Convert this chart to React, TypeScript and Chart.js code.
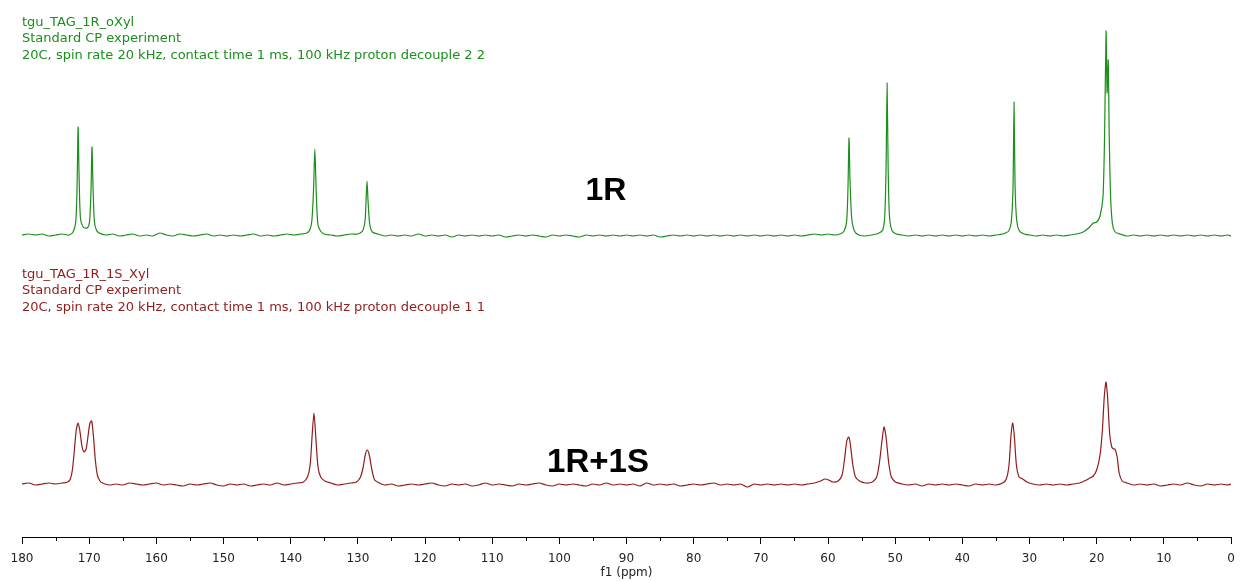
import React, { useEffect, useRef } from "react";
import { Chart, registerables } from "chart.js";

Chart.register(...registerables);

// Tick values (ppm)
const MAJOR_TICKS = [180, 170, 160, 150, 140, 130, 120, 110, 100, 90, 80, 70, 60, 50, 40, 30, 20, 10, 0];
const MINOR_TICKS = [175, 165, 155, 145, 135, 125, 115, 105, 95, 85, 75, 65, 55, 45, 35, 25, 15, 5];

// Header texts
const TITLE_1R = [
  "tgu_TAG_1R_oXyl",
  "Standard CP experiment",
  "20C, spin rate 20 kHz, contact time 1 ms, 100 kHz proton decouple 2 2",
];
const TITLE_MIX = [
  "tgu_TAG_1R_1S_Xyl",
  "Standard CP experiment",
  "20C, spin rate 20 kHz, contact time 1 ms, 100 kHz proton decouple 1 1",
];
const LABEL_1R = "1R";
const LABEL_MIX = "1R+1S";

// Spectrum 1R: [ppm, intensity above its own baseline]
const SPECTRUM_1R: [number, number][] = [
  [180, 1], [179, 2], [178, 1], [177, 2], [176, 0], [175, 1], [174, 2], [173, 1], [172.4, 4],
  [172.0, 14], [171.8, 50], [171.65, 109], [171.5, 60], [171.3, 18], [170.9, 9], [170.3, 8],
  [169.95, 14], [169.73, 45], [169.58, 89], [169.43, 50], [169.23, 15], [168.93, 6], [168.5, 3],
  [167.5, 1], [166.5, 2], [165.5, 0], [164.5, 1], [163.5, 2], [162.5, 0], [161.5, 1], [160.5, 0],
  [159.5, 3], [158.5, 1], [157.5, 0], [156.5, 2], [155.5, 1], [154.5, 0], [153.5, 1], [152.5, 2],
  [151.5, 0], [150.5, 1], [149.5, 0], [148.5, 1], [147.5, 0], [146.5, 1], [145.5, 2], [144.5, 0],
  [143.5, 1], [142.5, 0], [141.5, 1], [140.5, 2], [139.5, 1], [138.5, 2], [137.6, 3],
  [137.15, 6], [136.85, 15], [136.6, 45], [136.4, 87], [136.2, 45], [135.95, 12], [135.55, 5],
  [135.0, 2], [134.0, 1], [133.0, 0], [132.0, 1], [131.0, 2], [130.0, 2], [129.3, 5], [128.93, 15],
  [128.78, 35], [128.63, 55], [128.48, 35], [128.23, 12], [127.83, 4], [127.0, 2], [126.0, 0],
  [125.0, 1], [124.0, 0], [123.0, 1], [122.0, 0], [121.0, 2], [120.0, 0], [119.0, 1], [118.0, 0],
  [117.0, 1], [116.0, -1], [115.0, 1], [114.0, 0], [113.0, 1], [112.0, 0], [111.0, 1], [110.0, 0],
  [109.0, 1], [108.0, -1], [107.0, 0], [106.0, 1], [105.0, 0], [104.0, 1], [103.0, 0], [102.0, -1],
  [101.0, 1], [100.0, 0], [99.0, 1], [98.0, 0], [97.0, -1], [96.0, 1], [95.0, 0], [94.0, 1],
  [93.0, 0], [92.0, 1], [91.0, 0], [90.0, 1], [89.0, 0], [88.0, 1], [87.0, 0], [86.0, 1],
  [85.0, -1], [84.0, 0], [83.0, 1], [82.0, 0], [81.0, 1], [80.0, 0], [79.0, 1], [78.0, 0],
  [77.0, 1], [76.0, 0], [75.0, 1], [74.0, 0], [73.0, 1], [72.0, 0], [71.0, 1], [70.0, 0],
  [69.0, 1], [68.0, 0], [67.0, 1], [66.0, 0], [65.0, 1], [64.0, 0], [63.0, 1], [62.0, 2],
  [61.0, 1], [60.0, 2], [59.0, 1], [58.2, 2], [57.6, 5], [57.22, 15], [57.02, 50], [56.87, 98],
  [56.72, 55], [56.47, 18], [56.07, 5], [55.4, 1], [54.5, 0], [53.5, 1], [52.4, 3], [51.85, 6],
  [51.55, 20], [51.35, 70], [51.2, 153], [51.05, 70], [50.85, 20], [50.45, 5], [49.8, 2], [49.0, 1],
  [48.0, 0], [47.0, 1], [46.0, 0], [45.0, 1], [44.0, 0], [43.0, 1], [42.0, 0], [41.0, 1],
  [40.0, 0], [39.0, 1], [38.0, 0], [37.0, 1], [36.0, 0], [35.0, 1], [34.0, 2], [33.1, 5],
  [32.7, 15], [32.45, 50], [32.3, 134], [32.15, 50], [31.9, 15], [31.5, 5], [30.8, 2], [30.0, 1],
  [29.0, 0], [28.0, 1], [27.0, 0], [26.0, 1], [25.0, 0], [24.0, 1], [23.0, 2], [22.0, 4],
  [21.2, 8], [20.5, 13], [20.0, 14], [19.5, 20], [19.05, 40], [18.8, 110], [18.6, 205],
  [18.45, 143], [18.28, 176], [18.13, 100], [17.93, 40], [17.65, 12], [17.25, 4], [16.5, 2], [15.5, 0],
  [14.5, 1], [13.5, 0], [12.5, 1], [11.5, 0], [10.5, 1], [9.5, 0], [8.5, 1], [7.5, 0], [6.5, 1],
  [5.5, 0], [4.5, 1], [3.5, 0], [2.5, 1], [1.5, 0], [0.5, 1], [0, 0],
];

// Spectrum 1R+1S: [ppm, intensity above its own baseline]
const SPECTRUM_MIX: [number, number][] = [
  [180, 1], [179, 2], [178, 0], [177, 1], [176, 2], [175, 1], [174, 2], [173.2, 3], [172.8, 6],
  [172.5, 15], [172.2, 35], [171.92, 55], [171.65, 62], [171.4, 55], [171.05, 38], [170.75, 33],
  [170.45, 36], [170.15, 50], [169.88, 62], [169.63, 64], [169.38, 50], [169.08, 25], [168.78, 10],
  [168.4, 4], [168.0, 2], [167.0, 0], [166.0, 1], [165.0, 0], [164.0, 2], [163.0, 1], [162.0, 0],
  [161.0, 1], [160.0, 2], [159.0, 0], [158.0, 1], [157.0, 0], [156.0, -1], [155.0, 1], [154.0, 0],
  [153.0, 1], [152.0, 2], [151.0, 0], [150.0, -1], [149.0, 1], [148.0, 0], [147.0, 1], [146.0, -1],
  [145.0, 0], [144.0, 1], [143.0, 0], [142.0, 2], [141.0, 0], [140.0, 1], [139.0, 2], [138.1, 3],
  [137.5, 8], [137.1, 20], [136.8, 50], [136.53, 72], [136.28, 50], [135.93, 18], [135.53, 8],
  [134.9, 4], [134.0, 2], [133.0, 0], [132.0, 1], [131.0, 2], [130.2, 3], [129.6, 8], [129.2, 18],
  [128.9, 30], [128.6, 35], [128.3, 30], [127.9, 15], [127.5, 5], [126.8, 2], [126.0, 0],
  [125.0, 1], [124.0, -1], [123.0, 0], [122.0, 1], [121.0, 0], [120.0, 1], [119.0, 2], [118.0, 0],
  [117.0, -1], [116.0, 1], [115.0, 0], [114.0, 1], [113.0, -1], [112.0, 0], [111.0, 2], [110.0, 0],
  [109.0, 1], [108.0, 0], [107.0, -1], [106.0, 1], [105.0, 0], [104.0, 1], [103.0, 2], [102.0, 0],
  [101.0, -1], [100.0, 1], [99.0, 0], [98.0, 1], [97.0, 0], [96.0, -1], [95.0, 1], [94.0, 0],
  [93.0, 2], [92.0, 0], [91.0, 1], [90.0, 0], [89.0, 1], [88.0, -1], [87.0, 2], [86.0, 0],
  [85.0, 1], [84.0, 0], [83.0, 1], [82.0, -1], [81.0, 0], [80.0, 1], [79.0, 0], [78.0, 1],
  [77.0, 2], [76.0, 0], [75.0, 1], [74.0, 0], [73.0, 1], [72.0, -2], [71.0, 1], [70.0, 0],
  [69.0, 1], [68.0, 0], [67.0, 1], [66.0, 0], [65.0, 1], [64.0, 0], [63.0, 1], [62.0, 2],
  [61.1, 4], [60.45, 6], [59.9, 5], [59.3, 3], [58.5, 4], [57.9, 10], [57.5, 28], [57.2, 44],
  [56.92, 48], [56.7, 42], [56.3, 20], [55.9, 8], [55.3, 4], [54.4, 2], [53.4, 3], [52.75, 8],
  [52.35, 22], [51.95, 45], [51.66, 58], [51.36, 48], [50.96, 22], [50.56, 8], [49.96, 3], [49.0, 1],
  [48.0, 0], [47.0, 1], [46.0, -1], [45.0, 1], [44.0, 0], [43.0, 1], [42.0, 0], [41.0, 1],
  [40.0, 0], [39.0, -1], [38.0, 1], [37.0, 0], [36.0, 1], [35.0, 0], [34.0, 2], [33.45, 6],
  [33.05, 20], [32.75, 50], [32.5, 62], [32.25, 48], [31.95, 20], [31.55, 8], [31.0, 6], [30.4, 3],
  [29.5, 1], [28.5, 0], [27.5, 1], [26.5, 0], [25.5, 1], [24.5, 0], [23.5, 1], [22.5, 2],
  [21.5, 5], [21.0, 7], [20.5, 9], [20.0, 15], [19.5, 30], [19.15, 55], [18.85, 90], [18.6, 103],
  [18.35, 85], [18.05, 50], [17.75, 38], [17.5, 36], [17.27, 36], [16.95, 28], [16.65, 12],
  [16.2, 4], [15.5, 2], [14.5, 0], [13.5, 1], [12.5, 0], [11.5, 1], [10.5, -1], [9.5, 0],
  [8.5, 1], [7.5, 0], [6.5, 2], [5.5, 0], [4.5, -1], [3.5, 1], [2.5, 0], [1.5, 1], [0.5, 0], [0, 1],
];

const GREEN = "#1b8f1b";
const RED = "#901c1c";
const OFFSET_1R = 301;
const OFFSET_MIX = 52;
const FONT = "'DejaVu Sans', Verdana, sans-serif";

const annotationPlugin = {
  id: "nmrAnnotations",
  afterDraw(chart: any) {
    const ctx = chart.ctx;
    const xs = chart.scales.x;
    ctx.save();
    // minor ticks
    ctx.strokeStyle = "#000";
    ctx.lineWidth = 1;
    const yAxis = chart.chartArea.bottom;
    MINOR_TICKS.forEach((v) => {
      const px = Math.round(xs.getPixelForValue(v)) + 0.5;
      ctx.beginPath();
      ctx.moveTo(px, yAxis);
      ctx.lineTo(px, yAxis + 4);
      ctx.stroke();
    });
    // headers
    ctx.textAlign = "left";
    ctx.textBaseline = "alphabetic";
    ctx.font = "13px " + FONT;
    const left = chart.chartArea.left;
    ctx.fillStyle = GREEN;
    TITLE_1R.forEach((t, i) => ctx.fillText(t, left, 25.5 + i * 16.5));
    ctx.fillStyle = RED;
    TITLE_MIX.forEach((t, i) => ctx.fillText(t, left, 277.5 + i * 16.5));
    // big labels
    ctx.fillStyle = "#000";
    ctx.textAlign = "center";
    ctx.font = "bold 32px 'Liberation Sans', Arial, sans-serif";
    ctx.fillText(LABEL_1R, 606, 200);
    ctx.font = "bold 33px 'Liberation Sans', Arial, sans-serif";
    ctx.fillText(LABEL_MIX, 598, 472);
    ctx.restore();
  },
};

export default function App() {
  const ref = useRef<HTMLCanvasElement | null>(null);
  useEffect(() => {
    if (!ref.current) return;
    const chart = new Chart(ref.current, {
      type: "line",
      data: {
        datasets: [
          {
            label: "1R",
            data: SPECTRUM_1R.map(([x, y]) => ({ x, y: y + OFFSET_1R })),
            borderColor: GREEN,
            borderWidth: 1.2,
            pointRadius: 0,
            tension: 0.25,
            fill: false,
          },
          {
            label: "1R+1S",
            data: SPECTRUM_MIX.map(([x, y]) => ({ x, y: y + OFFSET_MIX })),
            borderColor: RED,
            borderWidth: 1.2,
            pointRadius: 0,
            tension: 0.25,
            fill: false,
          },
        ],
      },
      options: {
        animation: false,
        responsive: true,
        maintainAspectRatio: false,
        layout: { padding: { left: 22, right: 12, top: 10, bottom: 0 } },
        plugins: { legend: { display: false }, tooltip: { enabled: false } },
        scales: {
          x: {
            type: "linear",
            reverse: true,
            min: 0,
            max: 180,
            afterBuildTicks: (axis: any) => {
              axis.ticks = MAJOR_TICKS.map((v) => ({ value: v }));
            },
            afterFit: (axis: any) => {
              axis.height = 44;
            },
            grid: { display: true, drawOnChartArea: false, drawTicks: true, tickLength: 7, color: "#000" },
            border: { display: true, color: "#000", width: 1 },
            ticks: {
              color: "#222",
              padding: 8,
              maxRotation: 0,
              autoSkip: false,
              font: { family: FONT, size: 12 },
            },
            title: {
              display: true,
              text: "f1 (ppm)",
              color: "#222",
              padding: { top: 1, bottom: 1 },
              font: { family: FONT, size: 12 },
            },
          },
          y: { display: false, min: 0, max: 527 },
        },
      },
      plugins: [annotationPlugin],
    });
    return () => chart.destroy();
  }, []);
  return (
    <div style={{ position: "absolute", left: 0, top: 0, width: 1243, height: 581, background: "#fff" }}>
      <canvas ref={ref} />
    </div>
  );
}
